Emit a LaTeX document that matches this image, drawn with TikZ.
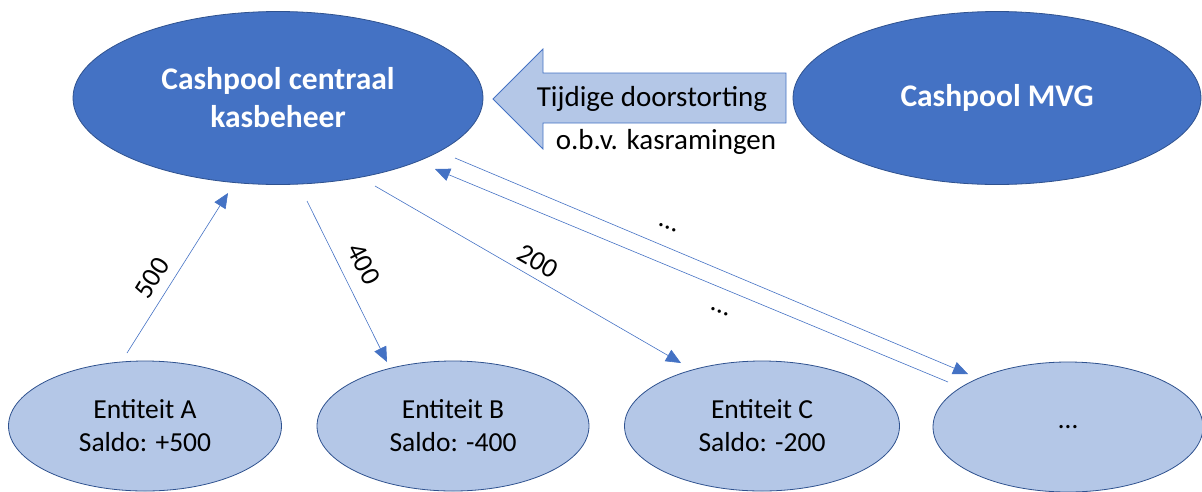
\documentclass[tikz,border=0pt]{standalone}
\usepackage{fontspec}
\setmainfont{Carlito}
\usetikzlibrary{arrows.meta,shapes.geometric}
\definecolor{dblue}{HTML}{4472C4}
\definecolor{lblue}{HTML}{B4C7E7}
\definecolor{eborder}{HTML}{2F528F}
\begin{document}
\begin{tikzpicture}[x=1pt,y=-1pt,
  bigell/.style={ellipse,draw=eborder,line width=0.8pt,fill=dblue,text=white,
    font=\fontsize{31.5}{38}\selectfont\bfseries,align=center,inner sep=0pt},
  entell/.style={ellipse,draw=eborder,line width=0.8pt,fill=lblue,
    font=\fontsize{27.5}{33}\selectfont,align=center,inner sep=0pt},
  flow/.style={draw=dblue,line width=0.6pt,-{Triangle[length=15pt,width=13pt]}},
  lbl/.style={font=\fontsize{27.5}{30}\selectfont,inner sep=0pt}]
\useasboundingbox (0,0) rectangle (1202,491);
% central ellipses
\node[bigell,minimum width=410pt,minimum height=173pt] (cp) at (278,98) {Cashpool centraal\\kasbeheer};
\node[bigell,minimum width=408pt,minimum height=173pt] (mvg) at (997,98) {Cashpool MVG};
% block arrow
\draw[draw=dblue,fill=lblue,line width=0.8pt] (786,73) -- (543,73) -- (543,49) -- (493,99) -- (543,149) -- (543,123) -- (786,123) -- cycle;
\node[font=\fontsize{29}{32}\selectfont,inner sep=0pt] (t1) at (652,99) {Tijdige doorstorting};
\node[font=\fontsize{29}{32}\selectfont,inner sep=0pt] (t2) at (666,142) {o.b.v. kasramingen};
% entity ellipses
\node[entell,minimum width=273pt,minimum height=130pt] (ea) at (145,426) {Entiteit A\\Saldo: +500};
\node[entell,minimum width=272pt,minimum height=130pt] (eb) at (453,426) {Entiteit B\\Saldo: -400};
\node[entell,minimum width=275pt,minimum height=130pt] (ec) at (762,426) {Entiteit C\\Saldo: -200};
\node[entell,minimum width=270pt,minimum height=130pt] (ed) at (1068,427) {…};
% connector end points
\coordinate (a1) at (127,353); \coordinate (a2) at (228,193);
\coordinate (b1) at (307,201); \coordinate (b2) at (387,362);
\coordinate (c1) at (375,186); \coordinate (c2) at (681,363);
\coordinate (d1) at (455,158); \coordinate (d2) at (968,374);
\coordinate (e1) at (948,382); \coordinate (e2) at (435,169);
\draw[flow] (a1) -- (a2);
\draw[flow] (b1) -- (b2);
\draw[flow] (c1) -- (c2);
\draw[flow] (d1) -- (d2);
\draw[flow] (e1) -- (e2);
% labels
\node[lbl,rotate=58] (l500) at (152,278) {500};
\node[lbl,rotate=-63] (l400) at (364,264) {400};
\node[lbl,rotate=-30] (l200) at (538,261) {200};
\node[lbl,rotate=-22] (ld1) at (668,228) {…};
\node[lbl,rotate=-22] (ld2) at (720,312) {…};
\end{tikzpicture}
\end{document}
